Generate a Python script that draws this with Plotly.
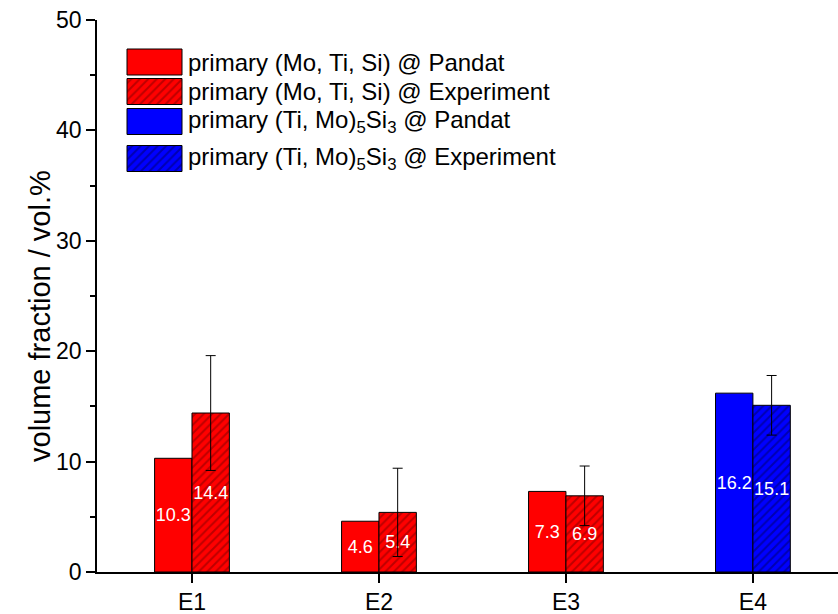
import plotly.graph_objects as go

# ---- data -------------------------------------------------------------
samples = ["E1", "E2", "E3", "E4"]

mts_samples = ["E1", "E2", "E3"]          # primary (Mo, Ti, Si)
mts_pandat = [10.3, 4.6, 7.3]
mts_experiment = [14.4, 5.4, 6.9]
mts_experiment_err = [5.2, 4.0, 2.7]

t53_samples = ["E4"]                      # primary (Ti, Mo)5Si3
t53_pandat = [16.2]
t53_experiment = [15.1]
t53_experiment_err = [2.7]

legend_labels = [
    "primary (Mo, Ti, Si) @ Pandat",
    "primary (Mo, Ti, Si) @ Experiment",
    "primary (Ti, Mo)<sub>5</sub>Si<sub>3</sub> @ Pandat",
    "primary (Ti, Mo)<sub>5</sub>Si<sub>3</sub> @ Experiment",
]
y_title = "volume fraction / vol.%"

# ---- styling ------------------------------------------------------------
FONT = "Liberation Sans, Arial, sans-serif"
RED, RED_HATCH = "#ff0000", "#7a0000"
BLUE, BLUE_HATCH = "#0000ff", "#000060"
BAR_W = 0.2

W, H = 838, 614
ML, MR, MT, MB = 97, 0, 20, 42
PLOT_W, PLOT_H = W - ML - MR, H - MT - MB

solid = dict(shape="")
def hatch(fg):
    return dict(shape="/", fgcolor=fg, size=6, solidity=0.33)

def bars(xs, ys, color, pattern, offset, err=None):
    return go.Bar(
        x=xs, y=ys, width=BAR_W, offset=offset,
        marker=dict(color=color, line=dict(color="black", width=1), pattern=pattern),
        text=[f"{v:.1f}" for v in ys], textposition="inside",
        insidetextanchor="middle", textangle=0, constraintext="none",
        textfont=dict(family=FONT, size=18, color="white"),
        error_y=None if err is None else dict(type="data", array=err, color="black",
                                              thickness=1, width=5),
        showlegend=False, hoverinfo="x+y",
    )

fig = go.Figure()
fig.add_trace(bars(mts_samples, mts_pandat, RED, solid, -BAR_W))
fig.add_trace(bars(mts_samples, mts_experiment, RED, hatch(RED_HATCH), 0, mts_experiment_err))
fig.add_trace(bars(t53_samples, t53_pandat, BLUE, solid, -BAR_W))
fig.add_trace(bars(t53_samples, t53_experiment, BLUE, hatch(BLUE_HATCH), 0, t53_experiment_err))

# ---- legend drawn on a pixel-scaled overlay axis ------------------------
sw_x0, sw_w, sw_h = 127, 55, 26
sw_centers = [62, 91.5, 121.5, 158.5]
sw_fill = [(RED, solid), (RED, hatch(RED_HATCH)), (BLUE, solid), (BLUE, hatch(BLUE_HATCH))]
for yc, (col, pat) in zip(sw_centers, sw_fill):
    fig.add_trace(go.Bar(
        x=[sw_w], y=[yc], base=[sw_x0], orientation="h", width=[sw_h],
        marker=dict(color=col, line=dict(color="black", width=1), pattern=pat),
        xaxis="x2", yaxis="y2", showlegend=False, hoverinfo="skip",
    ))
for yc, label in zip(sw_centers, legend_labels):
    fig.add_annotation(
        x=sw_x0 + sw_w + 4, y=yc, xref="x2", yref="y2", text=label,
        showarrow=False, xanchor="left", yanchor="middle",
        font=dict(family=FONT, size=24, color="black"),
    )

# y-axis title, placed as a rotated annotation
fig.add_annotation(
    x=(40 - ML) / PLOT_W, y=(H - MB - 316) / PLOT_H, xref="paper", yref="paper",
    text=y_title, textangle=-90, showarrow=False, xanchor="center", yanchor="middle",
    font=dict(family=FONT, size=29, color="black"),
)

fig.update_layout(
    width=W, height=H, margin=dict(l=ML, r=MR, t=MT, b=MB),
    paper_bgcolor="white", plot_bgcolor="white",
    barmode="overlay", showlegend=False,
    font=dict(family=FONT, color="black"),
    xaxis=dict(
        type="category", categoryorder="array", categoryarray=samples,
        range=[-0.508, 3.455], showgrid=False, zeroline=False,
        showline=True, linecolor="black", linewidth=1.5,
        ticks="outside", ticklen=9, tickwidth=1.5, tickcolor="black",
        tickfont=dict(family=FONT, size=23), fixedrange=True,
    ),
    yaxis=dict(
        range=[0, 50], tickvals=[0, 10, 20, 30, 40, 50], showgrid=False, zeroline=False,
        showline=True, linecolor="black", linewidth=1.5,
        ticks="outside", ticklen=9, tickwidth=1.5, tickcolor="black",
        minor=dict(tickvals=[5, 15, 25, 35, 45], ticks="outside", ticklen=5,
                   tickwidth=1.5, tickcolor="black"),
        tickfont=dict(family=FONT, size=23), fixedrange=True,
    ),
    xaxis2=dict(overlaying="x", range=[ML, W - MR], visible=False, fixedrange=True),
    yaxis2=dict(overlaying="y", range=[H - MB, MT], visible=False, fixedrange=True),
)

fig.write_html("out.html")
